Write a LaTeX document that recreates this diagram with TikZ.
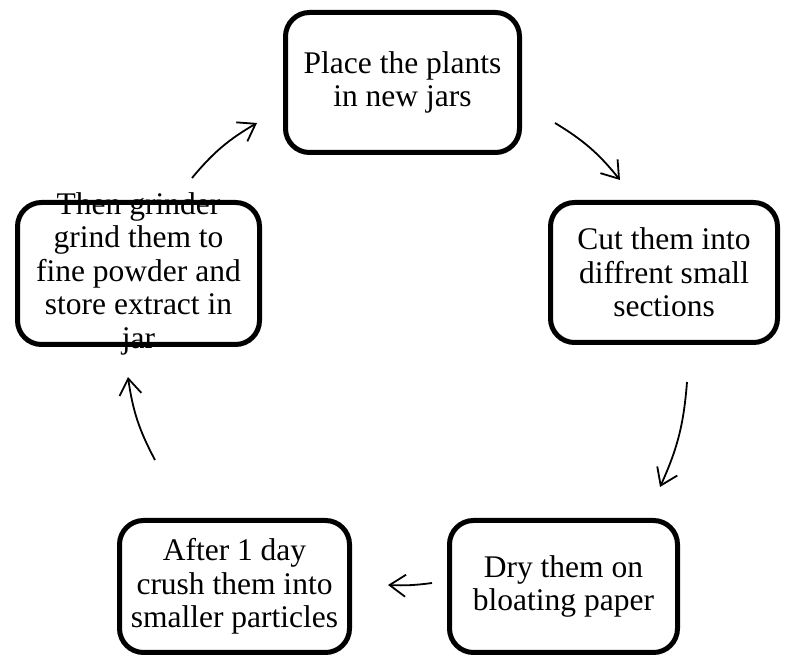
\documentclass[tikz,border=0pt]{standalone}
\usepackage{fontspec}
\setmainfont{Liberation Serif}
\usetikzlibrary{arrows.meta}
\tikzset{
  stepbox/.style={draw=black, line width=5pt, rounded corners=24pt, rectangle, fill=white, inner sep=0pt},
  steptext/.style={align=center, font=\fontsize{31.5}{33.5}\selectfont, inner sep=0pt},
  flow/.style={line width=1.8pt, -{Straight Barb[length=16pt,width=22pt,line width=1.8pt]}}
}
\begin{document}
\begin{tikzpicture}[x=1pt,y=1pt]
\useasboundingbox (0,0) rectangle (790,661);
% boxes (y = 661 - pixel y)
\node[stepbox, minimum width=234pt, minimum height=140pt] (top) at (402.5,578.5) {};
\node[steptext] (ttop) at (top) {Place the plants\\in new jars};
\node[stepbox, minimum width=227pt, minimum height=140pt] (cut) at (664,388.5) {};
\node[steptext] (tcut) at (cut) {Cut them into\\diffrent small\\sections};
\node[stepbox, minimum width=228pt, minimum height=132pt] (dry) at (563.5,74.5) {};
\node[steptext] (tdry) at (dry) {Dry them on\\bloating paper};
\node[stepbox, minimum width=230pt, minimum height=132pt] (after) at (234.5,74.5) {};
\node[steptext] (tafter) at (after) {After 1 day\\crush them into\\smaller particles};
\node[stepbox, minimum width=242pt, minimum height=142pt] (then) at (138.5,387.5) {};
\node[steptext] (tthen) at (then) {Then grinder\\grind them to\\fine powder and\\store extract in\\jar};
% arrow end points
\coordinate (a1s) at (192,483);
\coordinate (a1e) at (257,538);
\coordinate (a2s) at (555,538);
\coordinate (a2e) at (620,481);
\coordinate (a3s) at (687,279);
\coordinate (a3e) at (660,174);
\coordinate (a4s) at (432,78);
\coordinate (a4e) at (388,76);
\coordinate (a5s) at (155,201);
\coordinate (a5e) at (128,284);
\draw[flow] (a1s) to[bend left=10] (a1e);
\draw[flow] (a2s) to[bend left=10] (a2e);
\draw[flow] (a3s) to[bend left=10] (a3e);
\draw[flow] (a4s) to[bend left=5] (a4e);
\draw[flow] (a5s) to[bend left=10] (a5e);
\end{tikzpicture}
\end{document}
